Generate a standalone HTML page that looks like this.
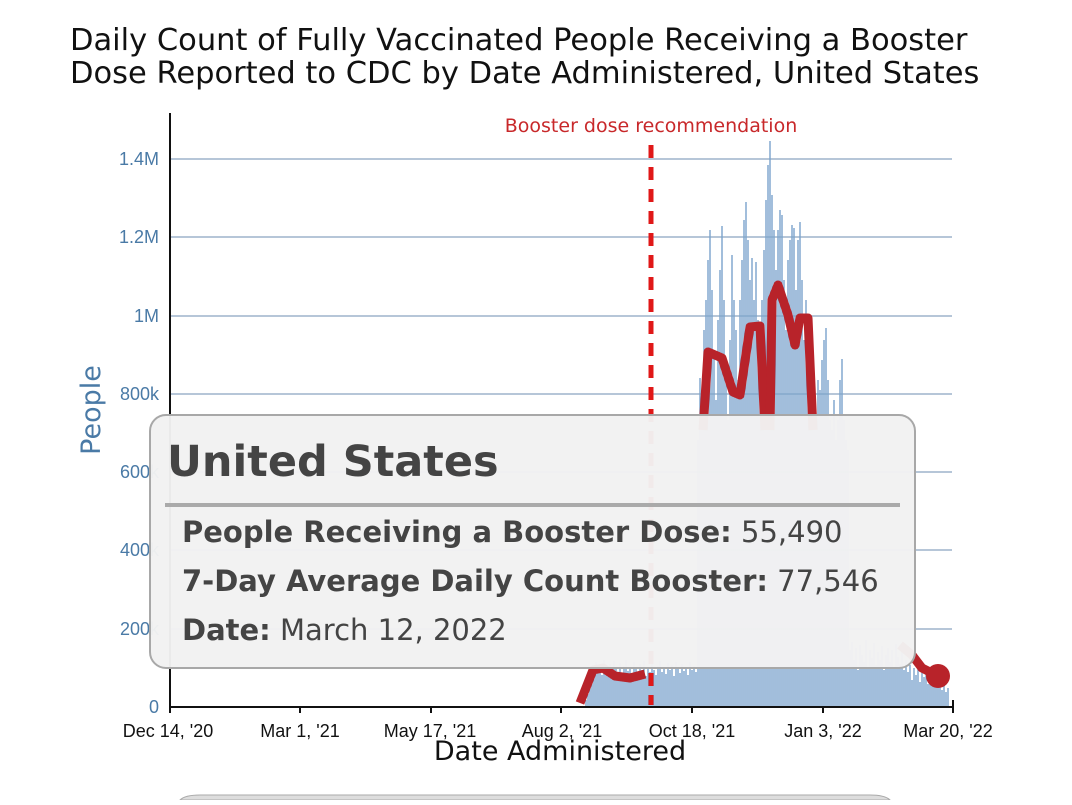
<!DOCTYPE html>
<html><head><meta charset="utf-8"><style>
body{margin:0;background:#fff;width:1072px;height:800px;overflow:hidden;font-family:"Liberation Sans",sans-serif}
</style></head><body>
<svg width="1072" height="800" xmlns="http://www.w3.org/2000/svg" font-family="Liberation Sans, sans-serif">
<text x="70" y="50" font-family="DejaVu Sans, sans-serif" font-size="30.5" fill="#111">Daily Count of Fully Vaccinated People Receiving a Booster</text>
<text x="70" y="83" font-family="DejaVu Sans, sans-serif" font-size="30.5" fill="#111">Dose Reported to CDC by Date Administered, United States</text>
<g stroke="#9db4cc" stroke-width="1.5">
<line x1="170" x2="952" y1="159" y2="159"/><line x1="170" x2="952" y1="237" y2="237"/><line x1="170" x2="952" y1="316" y2="316"/><line x1="170" x2="952" y1="394" y2="394"/><line x1="170" x2="952" y1="472" y2="472"/><line x1="170" x2="952" y1="550" y2="550"/><line x1="170" x2="952" y1="629" y2="629"/>
</g>
<g font-size="18" fill="#4a7aa6" text-anchor="end">
<text x="159" y="165">1.4M</text><text x="159" y="243">1.2M</text><text x="159" y="322">1M</text><text x="159" y="400">800k</text><text x="159" y="478">600k</text><text x="159" y="556">400k</text><text x="159" y="635">200k</text><text x="159" y="713">0</text>
</g>
<text transform="translate(100,410) rotate(-90)" text-anchor="middle" font-family="DejaVu Sans, sans-serif" font-size="27" fill="#4a7aa6">People</text>
<path fill="none" stroke="#7aa3cc" stroke-width="1.4" d="
M586 700V707M588 694V707M590 688V707M592 680V707M594 672V707
M596 662V707M598 670V707M600 665V707M602 675V707M604 660V707M606 668V707M608 672V707M610 664V707M612 676V707M614 661V707M616 669V707M618 673V707M620 663V707M622 677V707M624 666V707M626 660V707M628 671V707M630 668V707M632 675V707M634 662V707M636 669V707M638 674V707M640 664V707M642 670V707M644 661V707M646 676V707M648 667V707M650 672V707M652 663V707M654 670V707M656 675V707M658 666V707M660 661V707M662 672V707M664 668V707M666 674V707M668 663V707M670 670V707M672 665V707M674 676V707M676 662V707M678 669V707M680 673V707M682 664V707M684 671V707M686 667V707M688 675V707M690 662V707M692 670V707M694 666V707M696 672V707
M698 440V707M700 378V707M702 420V707M704 330V707M706 300V707M708 260V707M710 230V707M712 290V707M714 350V707M716 400V707M718 320V707M720 270V707M722 226V707M724 300V707M726 380V707M728 420V707M730 340V707M732 255V707M734 300V707M736 330V707M738 380V707M740 300V707M742 260V707M744 220V707M746 202V707M748 240V707M750 280V707M752 258V707M754 300V707M756 262V707M758 320V707M760 390V707M762 300V707M764 250V707M766 200V707M768 165V707M770 141V707M772 195V707M774 230V707M776 270V707M778 230V707M780 210V707M782 215V707M784 280V707M786 330V707M788 260V707M790 240V707M792 225V707M794 228V707M796 290V707M798 240V707M800 222V707M802 280V707M804 340V707M806 300V707M808 330V707M810 318V707M812 360V707M814 400V707M816 420V707M818 380V707M820 390V707M822 360V707M824 340V707M826 328V707M828 380V707M830 420V707M832 430V707M834 400V707M836 440V707M838 420V707M840 380V707M842 359V707M844 420V707M846 440V707M848 450V707
M850 650V707M852 642V707M854 660V707M856 648V707M858 670V707M860 645V707M862 655V707M864 662V707M866 640V707M868 668V707M870 650V707M872 658V707M874 643V707M876 665V707M878 652V707M880 660V707M882 646V707M884 670V707M886 655V707M888 648V707M890 662V707M892 650V707M894 668V707M896 644V707M898 657V707M900 664V707M902 650V707M904 670V707
M906 660V707M908 672V707M910 665V707M912 680V707M914 668V707M916 675V707M918 662V707M920 682V707M922 670V707M924 677V707M926 666V707M928 684V707M930 672V707M932 678V707M934 668V707M936 685V707M938 675V707M940 680V707M942 690V707M944 684V707M946 692V707M948 688V707"/>
<text x="651" y="132" text-anchor="middle" font-family="DejaVu Sans, sans-serif" font-size="19" fill="#c8282a">Booster dose recommendation</text>
<line x1="651" x2="651" y1="145" y2="705" stroke="#e01818" stroke-width="5" stroke-dasharray="13,9"/>
<polyline fill="none" stroke="#b8232a" stroke-width="9" stroke-linejoin="round" points="580,703 593,670 603,668 615,676 630,678 645,674"/>
<polyline fill="none" stroke="#b8232a" stroke-width="9" stroke-linejoin="round" points="703,430 708,352 722,358 733,392 740,395 750,327 760,326 765,430"/>
<polyline fill="none" stroke="#b8232a" stroke-width="9" stroke-linejoin="round" points="770,430 772,300 778,285 788,315 795,345 800,318 808,318 813,430"/>
<polyline fill="none" stroke="#b8232a" stroke-width="9" stroke-linejoin="round" points="900,645 912,655 922,668 938,676"/>
<circle cx="938" cy="676" r="12" fill="#b8232a"/>
<line x1="170" x2="170" y1="113" y2="708" stroke="#111" stroke-width="2"/>
<line x1="169" x2="952" y1="707" y2="707" stroke="#111" stroke-width="2"/>
<g stroke="#111" stroke-width="2">
<line x1="170" x2="170" y1="707" y2="713"/><line x1="300" x2="300" y1="707" y2="713"/><line x1="431" x2="431" y1="707" y2="713"/><line x1="561" x2="561" y1="707" y2="713"/><line x1="692" x2="692" y1="707" y2="713"/><line x1="823" x2="823" y1="707" y2="713"/><line x1="953" x2="953" y1="700" y2="713"/>
</g>
<g font-size="18" fill="#111" text-anchor="middle">
<text x="168" y="737">Dec 14, '20</text><text x="300" y="737">Mar 1, '21</text><text x="430" y="737">May 17, '21</text><text x="562" y="737">Aug 2, '21</text><text x="692" y="737">Oct 18, '21</text><text x="823" y="737">Jan 3, '22</text><text x="948" y="737">Mar 20, '22</text>
</g>
<text x="560" y="760" text-anchor="middle" font-family="DejaVu Sans, sans-serif" font-size="27" fill="#111">Date Administered</text>
<rect x="150" y="415" width="765" height="253" rx="16" fill="#f2f2f2" fill-opacity="0.97" stroke="#a8a8a8" stroke-width="2"/>
<text x="167" y="476" font-family="DejaVu Sans, sans-serif" font-weight="bold" font-size="43" fill="#444">United States</text>
<line x1="165" x2="900" y1="505" y2="505" stroke="#aaa" stroke-width="4"/>
<g font-family="DejaVu Sans, sans-serif" font-size="29" fill="#444">
<text x="182" y="542"><tspan font-weight="bold">People Receiving a Booster Dose:</tspan> 55,490</text>
<text x="182" y="591"><tspan font-weight="bold">7-Day Average Daily Count Booster:</tspan> 77,546</text>
<text x="182" y="640"><tspan font-weight="bold">Date:</tspan> March 12, 2022</text>
</g>
<path d="M180,800 Q185,795 200,795 L870,795 Q885,795 890,800 Z" fill="#ddd" stroke="#aaa"/>
</svg>
</body></html>
